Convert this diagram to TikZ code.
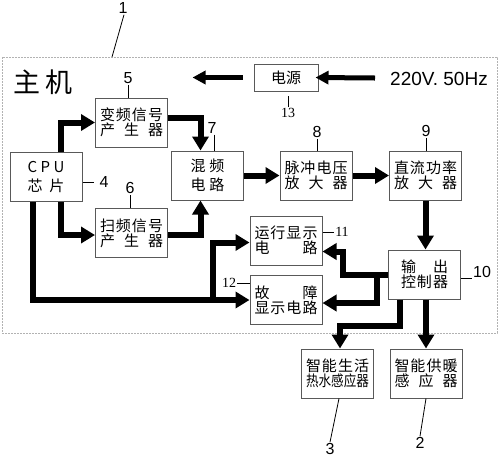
\documentclass[tikz,border=0pt]{standalone}
\usepackage{graphicx}
\usepackage{fontspec}
\setmainfont{Liberation Sans}
\newfontfamily\cjk{Noto Sans CJK SC}
\newfontfamily\tms{Liberation Serif}
\usetikzlibrary{arrows.meta}
\newcommand{\pk}[2]{\makebox[#1][s]{#2}}

\begin{document}
\begin{tikzpicture}[x=1pt,y=-1pt,
  blk/.style={draw=black!65,line width=1pt,minimum width=72pt,minimum height=49pt,inner sep=0pt,align=center,font=\cjk\fontsize{15}{15}\selectfont},
  arr/.style={line width=6pt,-{Triangle[length=14pt,width=16pt]}},
  pwr/.style={line width=5pt,-{Triangle[length=13pt,width=13pt]}},
  lab/.style={inner sep=1pt,font=\fontsize{16}{16}\selectfont},
  sl/.style={inner sep=1pt,font=\tms\fontsize{14}{14}\selectfont},
  tk/.style={line width=0.8pt}]
  \useasboundingbox (0,0) rectangle (500,459);
  \draw [gray!60,line width=0.8pt,dash pattern=on 2pt off 1pt] (2,57) rectangle (497,333);
  \node [font=\cjk\fontsize{27}{27}\selectfont] (zj) at (43,82) {主\hspace{5pt}机};
  \node [font=\fontsize{19}{19}\selectfont] (ac220) at (439,79) {220V. 50Hz};

  \node [blk] (cpu) at (46,177) {\pk{37pt}{C\hfill P\hfill U}\\[4pt]\pk{37pt}{芯\hfill 片}};
  \node [blk] (bp) at (131.5,122.5) {\pk{63pt}{变\hfill 频\hfill 信\hfill 号}\\\pk{63pt}{产\hfill 生\hfill 器}};
  \node [blk] (sp) at (131.5,233) {\pk{63pt}{扫\hfill 频\hfill 信\hfill 号}\\\pk{63pt}{产\hfill 生\hfill 器}};
  \node [blk] (hp) at (207.5,175.5) {\pk{34pt}{混\hfill 频}\\[4pt]\pk{34pt}{电\hfill 路}};
  \node [blk] (mc) at (316,175.5) {\pk{63pt}{脉\hfill 冲\hfill 电\hfill 压}\\\pk{63pt}{放\hfill 大\hfill 器}};
  \node [blk] (zl) at (425.5,175.5) {\pk{63pt}{直\hfill 流\hfill 功\hfill 率}\\\pk{63pt}{放\hfill 大\hfill 器}};
  \node [blk] (yx) at (286,240.5) {\pk{63pt}{运\hfill 行\hfill 显\hfill 示}\\\pk{63pt}{电\hfill 路}};
  \node [blk] (gz) at (286,300) {\pk{63pt}{故\hfill 障}\\\pk{63pt}{显\hfill 示\hfill 电\hfill 路}};
  \node [blk] (sc) at (424.5,274.5) {\pk{47pt}{输\hfill 出}\\\pk{47pt}{控\hfill 制\hfill 器}};
  \node [blk] (rs) at (337.5,373.5) {\pk{63pt}{智\hfill 能\hfill 生\hfill 活}\\\scalebox{0.84}[1]{热水感应器}};
  \node [blk] (gn) at (426,373.5) {\pk{63pt}{智\hfill 能\hfill 供\hfill 暖}\\\pk{63pt}{感\hfill 应\hfill 器}};
  \node [blk,minimum width=64pt,minimum height=27pt] (dy) at (286,77.5) {电源};

  \draw [arr] ([xshift=15pt]cpu.north) |- (bp.west);
  \draw [arr] ([xshift=15pt]cpu.south) |- ([yshift=-2pt]sp.west);
  \draw [arr] ([xshift=-13pt]cpu.south) |- (gz.west);
  \draw [arr] ([xshift=-37pt]gz.west) |- ([yshift=-2pt]yx.west);
  \draw [arr] ([yshift=5pt]bp.east) -| ([xshift=-7pt]hp.north);
  \draw [arr] ([yshift=-2pt]sp.east) -| ([xshift=-7pt]hp.south);
  \draw [arr] (hp) -- (mc);
  \draw [arr] (mc) -- (zl);
  \draw [arr] (zl.south) -- (zl.south |- sc.north);
  \coordinate (k1) at (343,274.5);
  \coordinate (k2) at (377,274.5);
  \draw [arr] (sc.west) -- (k1) |- ([yshift=-11pt]yx.east);
  \draw [arr] (k2) |- ([yshift=-3pt]gz.east);
  \draw [arr] ([xshift=-24.5pt]sc.south) -- ++(0,26) -| ([xshift=2.5pt]rs.north);
  \draw [arr] (gn.north |- sc.south) -- (gn.north);
  \coordinate (pin) at (375,78);
  \draw [pwr] (pin) -- ([xshift=-3pt]dy.east);
  \draw [pwr] ([xshift=-11pt]dy.west) -- ++(-50,0);

  \node [lab] (l1) at (123,8) {1};
  \coordinate (f1) at (112,57);
  \draw [tk] ([xshift=1pt]l1.south) -- (f1);
  \node [lab] (l5) at (128,78) {5};
  \draw [tk] (l5.south) -- (l5.south |- bp.north);
  \node [lab] (l6) at (130,188) {6};
  \draw [tk] (l6.south) -- (l6.south |- sp.north);
  \node [lab] (l7) at (212,128) {7};
  \draw [tk] ([xshift=2pt]l7.south) -- ([xshift=2pt]l7.south |- hp.north);
  \node [lab] (l8) at (317,132) {8};
  \draw [tk] (l8.south) -- (l8.south |- mc.north);
  \node [lab] (l9) at (426,131) {9};
  \draw [tk] (l9.south) -- (l9.south |- zl.north);
  \node [lab] (l4) at (104,182) {4};
  \draw [tk] (cpu.east |- l4) -- ++(11,0);
  \node [lab] (l10) at (482,272) {10};
  \draw [tk] (sc.east |- l10.south) -- (l10.south west);
  \node [sl] (l11) at (342,232) {11};
  \draw [tk] (yx.east |- l11) -- (l11.west);
  \node [sl] (l12) at (229,283) {12};
  \draw [tk] (l12.east) -- (gz.west |- l12);
  \node [sl] (l13) at (288,113) {13};
  \draw [tk] (l13.north) -- ++(0,-11);
  \node [lab] (l3) at (330,449) {3};
  \draw [tk] ([xshift=1.5pt]rs.south) -- (l3.north);
  \node [lab] (l2) at (420,443) {2};
  \draw [tk] (gn.south) -- (l2.north);
\end{tikzpicture}
\end{document}
